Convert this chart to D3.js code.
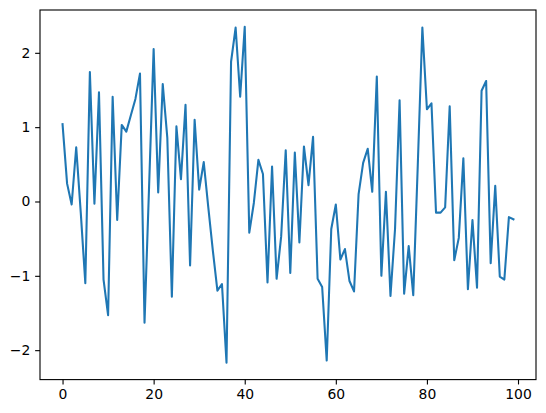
<!DOCTYPE html>
<html>
<head>
<meta charset="utf-8">
<script src="https://cdn.jsdelivr.net/npm/d3@7"></script>
<style>
  html, body { margin: 0; padding: 0; background: #fff; }
  svg { display: block; }
</style>
</head>
<body>
<svg id="chart" width="546" height="413"></svg>
<script>
const yValues = [
  1.04, 0.24, -0.04, 0.73, -0.15, -1.10, 1.74, -0.03, 1.47, -1.05,
  -1.53, 1.41, -0.25, 1.03, 0.94, 1.16, 1.38, 1.72, -1.63, 0.20,
  2.05, 0.12, 1.58, 0.86, -1.28, 1.01, 0.30, 1.30, -0.86, 1.10,
  0.16, 0.53, -0.08, -0.66, -1.20, -1.11, -2.17, 1.88, 2.34, 1.41,
  2.35, -0.42, -0.02, 0.56, 0.37, -1.09, 0.47, -1.04, -0.47, 0.69,
  -0.96, 0.66, -0.55, 0.74, 0.22, 0.87, -1.04, -1.15, -2.14, -0.37,
  -0.04, -0.78, -0.64, -1.07, -1.21, 0.10, 0.52, 0.71, 0.13, 1.68,
  -1.00, 0.13, -1.27, -0.37, 1.36, -1.24, -0.60, -1.26, 0.50, 2.34,
  1.24, 1.32, -0.15, -0.15, -0.08, 1.28, -0.79, -0.49, 0.58, -1.18,
  -0.25, -1.16, 1.49, 1.62, -0.83, 0.21, -1.01, -1.05, -0.21, -0.24
];
const xValues = yValues.map((d, i) => i);
const xTicks = [0, 20, 40, 60, 80, 100];
const yTicks = [-2, -1, 0, 1, 2];

(function () {
  const mLeft = 40, mTop = 10, plotW = 496, plotH = 369.6;

  const svg = d3.select("#chart");

  const xMin = d3.min(xValues), xMax = d3.max(xValues);
  const xPad = (xMax - xMin) * 0.05;
  const yMin = d3.min(yValues), yMax = d3.max(yValues);
  const yPad = (yMax - yMin) * 0.05;

  const x = d3.scaleLinear().domain([xMin - xPad, xMax + xPad]).range([mLeft, mLeft + plotW]);
  const y = d3.scaleLinear().domain([yMin - yPad, yMax + yPad]).range([mTop + plotH, mTop]);

  const fmt = d => (d < 0 ? "\u2212" + Math.abs(d) : String(d));

  const line = d3.line().x((d, i) => x(xValues[i])).y(d => y(d));

  svg.append("path")
    .datum(yValues)
    .attr("d", line)
    .attr("fill", "none")
    .attr("stroke", "#1f77b4")
    .attr("stroke-width", 2.08)
    .attr("stroke-linejoin", "round")
    .attr("stroke-linecap", "square");

  const xAxis = d3.axisBottom(x).tickValues(xTicks).tickFormat(fmt).tickSize(4.86).tickPadding(4.86);
  const yAxis = d3.axisLeft(y).tickValues(yTicks).tickFormat(fmt).tickSize(4.86).tickPadding(4.86);

  const gx = svg.append("g").attr("transform", `translate(0,${mTop + plotH})`).call(xAxis);
  const gy = svg.append("g").attr("transform", `translate(${mLeft},0)`).call(yAxis);

  [gx, gy].forEach(g => {
    g.select(".domain").remove();
    g.selectAll(".tick line").attr("stroke", "#000").attr("stroke-width", 1.11);
    g.selectAll(".tick text")
      .attr("fill", "#000")
      .style("font-family", "'DejaVu Sans', sans-serif")
      .style("font-size", "13.9px");
  });

  svg.append("rect")
    .attr("x", mLeft).attr("y", mTop)
    .attr("width", plotW).attr("height", plotH)
    .attr("fill", "none")
    .attr("stroke", "#000")
    .attr("stroke-width", 1.11);
})();
</script>
</body>
</html>
